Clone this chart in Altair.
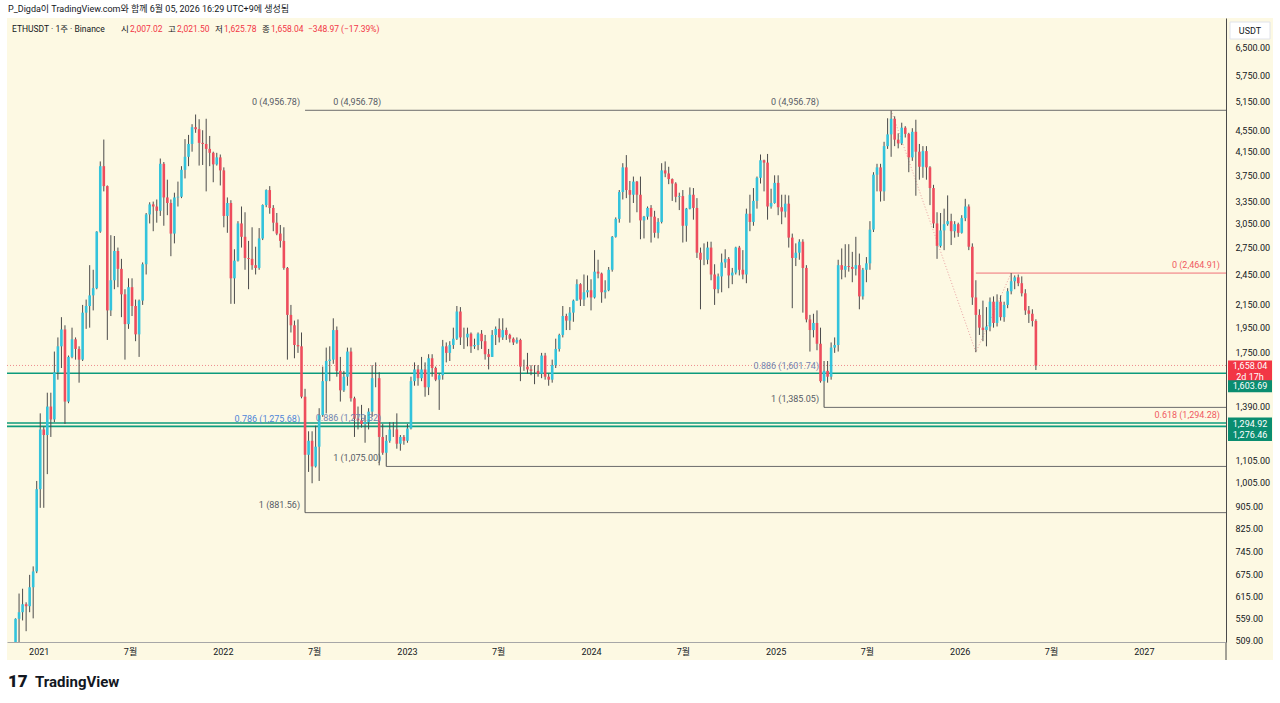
import altair as alt
import pandas as pd

# ---------------- weekly candles, ETHUSDT (Binance) ----------------
FIRST_OPEN = 461.0
FIRST_WEEK = "2020-11-16"

close_2020 = [559, 575, 595, 590, 640, 685, 975]
high_2020 = [560, 623, 636, 600, 675, 700, 1010]
low_2020 = [445, 480, 555, 530, 575, 560, 680]

close_2021 = [1260, 1230, 1390, 1315, 1610, 1800, 1935, 1420, 1720, 1855, 1780, 1700, 2080,
              2140, 2240, 2310, 2945, 3900, 3580, 2100, 2390, 2710, 2510, 2250, 1980, 2320,
              2140, 1895, 2190, 2560, 3170, 3310, 3280, 3220, 3940, 3410, 3330, 2920, 3410,
              3420, 3840, 4060, 4290, 4610, 4570, 4310, 4290, 4200, 4130, 3930, 4050, 3830]
high_2021 = [1350, 1275, 1475, 1475, 1760, 1870, 2040, 1970, 1730, 1950, 1870, 1800, 2150,
             2200, 2550, 2500, 2950, 3980, 4372, 3590, 2900, 2890, 2750, 2620, 2300, 2410,
             2410, 2200, 2200, 2580, 3190, 3340, 3350, 3380, 4030, 3970, 3680, 3380, 3480,
             3650, 3900, 4380, 4460, 4670, 4868, 4770, 4550, 4780, 4440, 4150, 4130, 4100]
low_2021 = [900, 900, 1040, 1220, 1300, 1560, 1640, 1290, 1410, 1710, 1700, 1540, 1690,
            1940, 1950, 2100, 2300, 2930, 3500, 1850, 2050, 2300, 2320, 2040, 1700, 1940,
            2050, 1840, 1720, 2150, 2450, 3050, 2950, 3060, 3150, 3020, 3160, 2650, 2800,
            3280, 3400, 3700, 3900, 4150, 4500, 3910, 3920, 3500, 3900, 3640, 3910, 3590]

close_2022 = [3150, 3330, 2410, 2600, 3050, 2880, 2630, 2620, 2550, 2520, 2860, 3300, 3520,
              3260, 3060, 2920, 2830, 2520, 2060, 1970, 1810, 1800, 1450, 1130, 1200, 1075,
              1170, 1340, 1550, 1690, 1700, 1930, 1620, 1490, 1580, 1760, 1440, 1320, 1310,
              1290, 1300, 1360, 1570, 1570, 1220, 1140, 1200, 1260, 1260, 1185, 1220, 1200]
high_2022 = [3880, 3410, 3370, 2730, 3080, 3280, 3200, 2830, 3000, 2760, 2990, 3310, 3530,
             3580, 3300, 3190, 3030, 3000, 2530, 2150, 2010, 2020, 1910, 1500, 1250, 1250,
             1280, 1380, 1650, 1790, 1800, 2030, 1960, 1720, 1620, 1790, 1790, 1450, 1390,
             1400, 1340, 1380, 1660, 1680, 1610, 1290, 1230, 1300, 1300, 1350, 1230, 1230]
low_2022 = [3000, 2930, 2160, 2160, 2590, 2750, 2500, 2300, 2500, 2450, 2500, 2840, 3270,
            3180, 2950, 2900, 2750, 2500, 1700, 1910, 1710, 1750, 1440, 881.56, 1050, 1000,
            1070, 1010, 1330, 1350, 1550, 1670, 1580, 1420, 1480, 1520, 1420, 1220, 1260,
            1270, 1190, 1260, 1330, 1510, 1080, 1130, 1075, 1190, 1220, 1160, 1150, 1180]

close_2023 = [1265, 1550, 1630, 1570, 1630, 1510, 1710, 1640, 1560, 1590, 1800, 1750, 1810,
              1860, 2090, 1870, 1870, 1900, 1800, 1810, 1900, 1840, 1740, 1720, 1890, 1940,
              1870, 1930, 1890, 1860, 1830, 1850, 1650, 1650, 1630, 1620, 1620, 1600, 1730,
              1580, 1560, 1660, 1780, 1890, 2050, 2010, 2080, 2190, 2350, 2200, 2270, 2290]
high_2023 = [1290, 1580, 1680, 1660, 1720, 1680, 1740, 1740, 1650, 1600, 1850, 1830, 1840,
             1950, 2140, 2130, 1950, 1950, 1910, 1860, 1910, 1930, 1890, 1780, 1930, 1960,
             2030, 2030, 1950, 1900, 1870, 1870, 1860, 1700, 1750, 1660, 1660, 1660, 1750,
             1750, 1600, 1700, 1860, 1900, 2140, 2070, 2130, 2200, 2400, 2360, 2450, 2440]
low_2023 = [1190, 1260, 1520, 1520, 1550, 1450, 1460, 1580, 1550, 1370, 1560, 1680, 1690,
            1780, 1850, 1810, 1780, 1800, 1750, 1780, 1770, 1780, 1700, 1630, 1720, 1810,
            1830, 1850, 1850, 1830, 1810, 1820, 1550, 1620, 1600, 1590, 1530, 1580, 1570,
            1560, 1520, 1540, 1640, 1760, 1870, 1930, 1930, 2000, 2190, 2140, 2140, 2220]

close_2024 = [2220, 2480, 2460, 2270, 2290, 2500, 2880, 3110, 3490, 3880, 3520, 3450, 3650,
              3450, 3090, 3140, 3260, 3140, 2930, 3070, 3830, 3780, 3690, 3620, 3420, 3430,
              3020, 3250, 3450, 3260, 2690, 2610, 2610, 2750, 2450, 2300, 2430, 2580, 2620,
              2440, 2470, 2750, 2500, 2450, 3180, 3070, 3360, 3710, 4000, 3960, 3280, 3330]
high_2024 = [2400, 2720, 2610, 2470, 2390, 2530, 2890, 3130, 3520, 3950, 4090, 3660, 3730,
             3660, 3730, 3150, 3280, 3300, 3220, 3120, 3950, 3980, 3890, 3700, 3640, 3480,
             3520, 3260, 3560, 3550, 3400, 2750, 2800, 2820, 2820, 2560, 2460, 2680, 2730,
             2640, 2520, 2760, 2770, 2720, 3250, 3450, 3550, 3730, 4100, 4010, 4110, 3540]
low_2024 = [2100, 2210, 2410, 2170, 2210, 2280, 2480, 2870, 3060, 3380, 3400, 3060, 3330,
            3200, 2850, 2860, 3100, 2810, 2870, 2860, 3050, 3720, 3610, 3360, 3340, 3230,
            2810, 2820, 3240, 3100, 2630, 2110, 2550, 2560, 2390, 2150, 2260, 2270, 2520,
            2310, 2350, 2450, 2440, 2400, 2360, 2950, 3020, 3250, 3620, 3500, 3100, 3250]

close_2025 = [3630, 3270, 3210, 3320, 2870, 2630, 2690, 2820, 2520, 2020, 1930, 1990, 1820,
              1550, 1620, 1580, 1790, 1810, 2550, 2500, 2540, 2530, 2510, 2550, 2230, 2500,
              2570, 2970, 3760, 3880, 3500, 4250, 4470, 4780, 4370, 4300, 4600, 4480, 4050,
              4520, 4150, 3890, 4160, 3880, 3550, 3050, 2770, 2960, 3040, 3080, 2950, 3040,
              2930]
high_2025 = [3750, 3750, 3450, 3450, 3440, 2920, 2800, 2850, 2850, 2550, 2060, 2070, 2100,
             1950, 1690, 1690, 1830, 1870, 2610, 2740, 2790, 2790, 2700, 2880, 2680, 2520,
             2640, 3080, 3800, 3940, 3940, 4330, 4790, 4956.78, 4830, 4490, 4700, 4630, 4500,
             4590, 4760, 4290, 4250, 4250, 3900, 3600, 3200, 3190, 3250, 3440, 3180, 3080,
             3060]
low_2025 = [3320, 3160, 3040, 3130, 2750, 2120, 2540, 2610, 2080, 1995, 1760, 1870, 1770,
            1540, 1385.05, 1540, 1560, 1750, 1760, 2400, 2420, 2480, 2370, 2440, 2110, 2200,
            2370, 2500, 2940, 3500, 3350, 3360, 4200, 4060, 4250, 4210, 4270, 4410, 3800,
            3990, 3435, 3680, 3710, 3680, 3300, 2990, 2620, 2750, 2720, 3020, 2780, 2870,
            2880]

close_2026 = [3120, 3280, 2760, 2220, 2060, 1950, 1930, 1960, 2180, 1990, 2180, 2040, 2150,
              2280, 2380, 2420, 2360, 2260, 2100, 2070, 2007.02, 1658.04]
high_2026 = [3160, 3390, 3310, 2800, 2390, 2110, 2190, 2130, 2220, 2230, 2250, 2240, 2180,
             2310, 2464.91, 2440, 2450, 2430, 2300, 2140, 2110, 2021.50]
low_2026 = [2920, 3080, 2720, 2150, 1755, 1890, 1840, 1800, 1920, 1950, 1960, 2010, 2000,
            2120, 2250, 2300, 2330, 2230, 2060, 1990, 1960, 1625.78]

# horizontal levels
green_levels = [1603.69, 1294.92, 1276.46]
last_price = 1658.04
y_ticks = [6500, 5750, 5150, 4550, 4150, 3750, 3350, 3050, 2750, 2450, 2150, 1950, 1750,
           1390, 1105, 1005, 905, 825, 745, 675, 615, 559, 509]

# fib tools (anchor week, level price)
fib_line_start = ["2022-06-13", "2022-06-13", "2022-11-21", "2025-04-07"]
fib_line_price = [4956.78, 881.56, 1075.00, 1385.05]
fib_label_week = ["2022-06-13", "2022-06-13", "2022-06-13", "2022-11-21", "2022-11-21",
                  "2022-11-21", "2025-04-07", "2025-04-07", "2025-04-07"]
fib_label_price = [4956.78, 881.56, 1275.68, 4956.78, 1075.00, 1279.32, 4956.78, 1601.74, 1385.05]
fib_label_text = ["0 (4,956.78)", "1 (881.56)", "0.786 (1,275.68)", "0 (4,956.78)",
                  "1 (1,075.00)", "0.886 (1,279.32)", "0 (4,956.78)", "0.886 (1,601.74)",
                  "1 (1,385.05)"]
fib_label_kind = ["n", "n", "b", "n", "n", "g", "n", "g", "n"]
red_fib_start = "2026-02-02"
red_fib_prices = [2464.91, 1294.28]
red_fib_texts = ["0 (2,464.91)", "0.618 (1,294.28)"]
zig_weeks = ["2025-08-18", "2026-02-02", "2026-04-13"]
zig_prices = [4956.78, 1755.0, 2464.91]

x_tick_years = [2021, 2021, 2022, 2022, 2023, 2023, 2024, 2024, 2025, 2025, 2026, 2026, 2027]
x_tick_months = [1, 7, 1, 7, 1, 7, 1, 7, 1, 7, 1, 7, 1]

# ---------------- build tables ----------------
closes = close_2020 + close_2021 + close_2022 + close_2023 + close_2024 + close_2025 + close_2026
highs = high_2020 + high_2021 + high_2022 + high_2023 + high_2024 + high_2025 + high_2026
lows = low_2020 + low_2021 + low_2022 + low_2023 + low_2024 + low_2025 + low_2026
opens = [FIRST_OPEN] + closes[:-1]
weeks = pd.date_range(FIRST_WEEK, periods=len(closes), freq="7D")
candles = pd.DataFrame({
    "week": weeks, "open": opens, "close": closes,
    "high": [max(h, o, c) for h, o, c in zip(highs, opens, closes)],
    "low": [min(l, o, c) for l, o, c in zip(lows, opens, closes)],
})
candles["dir"] = ["up" if c >= o else "down" for o, c in zip(opens, closes)]

W, H = 1219, 624
FONT = "Roboto, 'Noto Sans CJK KR', sans-serif"
BG = "#fdf9e3"
UP, DOWN = "#33c3dc", "#ee4d5d"
GREEN = "#0c9b7d"
TXT = "#131722"
RED = "#f23645"
FIBGRAY = "#575b66"

x_scale = alt.Scale(domain=[alt.DateTime(year=2020, month=11, date=9),
                            alt.DateTime(year=2027, month=6, date=3)])
y_scale = alt.Scale(type="log", domain=[506, 7366], nice=False)

x_axis = alt.Axis(
    values=[alt.DateTime(year=y, month=m, date=1) for y, m in zip(x_tick_years, x_tick_months)],
    labelExpr="month(datum.value) == 0 ? timeFormat(datum.value, '%Y') : (month(datum.value) + 1) + '월'",
    title=None, grid=False, ticks=False, domainColor="#a7a7a7", labelColor=TXT,
    labelFontSize=9, labelPadding=5, labelFlush=False, labelOverlap=False, zindex=1,
)
y_axis = alt.Axis(
    orient="right", values=y_ticks, format=",.2f", title=None, grid=False, ticks=False,
    domainColor="#4a4a4a", labelColor=TXT, labelFontSize=9, labelPadding=9,
    labelOverlap=False, labelFlush=False, zindex=1,
)

one = pd.DataFrame({"a": [0]})

background = alt.Chart(one).mark_rect(fill=BG, clip=False).encode(
    x=alt.value(0), x2=alt.value(1266), y=alt.value(0), y2=alt.value(642))

wicks = alt.Chart(candles).mark_rule(color="#4b4b4b", strokeWidth=1, clip=True).encode(
    x=alt.X("week:T", scale=x_scale, axis=x_axis),
    y=alt.Y("low:Q", scale=y_scale, axis=y_axis),
    y2="high:Q",
)
bodies = alt.Chart(candles).mark_bar(size=2.6, clip=True).encode(
    x="week:T", y="open:Q", y2="close:Q",
    color=alt.Color("dir:N", scale=alt.Scale(domain=["up", "down"], range=[UP, DOWN]), legend=None),
)

green_df = pd.DataFrame({"price": green_levels})
green_rules = alt.Chart(green_df).mark_rule(color=GREEN, strokeWidth=1.6).encode(y="price:Q")

last_df = pd.DataFrame({"price": [last_price]})
last_rule = alt.Chart(last_df).mark_rule(color="#e8707a", strokeWidth=0.8, strokeDash=[1, 2]).encode(
    y="price:Q")

fib_df = pd.DataFrame({"start": pd.to_datetime(fib_line_start), "price": fib_line_price})
fib_rules = alt.Chart(fib_df).mark_rule(color="#6b6b6b", strokeWidth=1).encode(
    x="start:T", x2=alt.value(W), y="price:Q")

red_df = pd.DataFrame({"start": pd.to_datetime([red_fib_start]), "price": [red_fib_prices[0]]})
red_rule = alt.Chart(red_df).mark_rule(color="#f07078", strokeWidth=1).encode(
    x="start:T", x2=alt.value(W), y="price:Q")

zig_df = pd.DataFrame({"week": pd.to_datetime(zig_weeks), "price": zig_prices})
zigzag = alt.Chart(zig_df).mark_line(color="#e9a2a2", strokeWidth=1, strokeDash=[1, 2]).encode(
    x="week:T", y="price:Q")

kind_color = {"n": FIBGRAY, "b": "#4f86d8", "g": "#7484b0"}
lab_df = pd.DataFrame({"week": pd.to_datetime(fib_label_week), "price": fib_label_price,
                       "text": fib_label_text,
                       "col": [kind_color[k] for k in fib_label_kind]})
fib_labels = alt.Chart(lab_df).mark_text(align="right", baseline="middle", dx=-5, dy=-8,
                                          fontSize=9, font=FONT).encode(
    x="week:T", y="price:Q", text="text:N", color=alt.Color("col:N", scale=None))

red_lab_df = pd.DataFrame({"price": red_fib_prices, "text": red_fib_texts})
red_labels = alt.Chart(red_lab_df).mark_text(align="right", baseline="middle", dy=-8,
                                              fontSize=9, font=FONT, color="#f05a62").encode(
    x=alt.value(1213), y="price:Q", text="text:N")


def price_box(price, label, fill, offset, hh=0.2727):
    d = pd.DataFrame({"price": [price], "label": [label]})
    path = f"M-1,-{hh}L1,-{hh}L1,{hh}L-1,{hh}Z"
    box = alt.Chart(d).mark_point(shape=path, size=1936, filled=True, fill=fill, opacity=1,
                                  strokeWidth=0, clip=False, yOffset=offset).encode(
        x=alt.value(1243), y="price:Q")
    txt = alt.Chart(d).mark_text(color="white", fontSize=9, font=FONT, clip=False,
                                 yOffset=offset if hh < 0.4 else offset - 6).encode(
        x=alt.value(1243), y="price:Q", text="label:N")
    return [box, txt]


boxes = []
boxes += price_box(last_price, "1,658.04", RED, 7, hh=0.545)
boxes.append(alt.Chart(last_df).mark_text(color="white", fontSize=9, font=FONT, yOffset=12,
                                          text="2d 17h").encode(x=alt.value(1243), y="price:Q"))
boxes += price_box(green_levels[0], "1,603.69", "#0a8d70", 13)
boxes += price_box(green_levels[1], "1,294.92", "#0a8d70", 0.5)
boxes += price_box(green_levels[2], "1,276.46", "#0a8d70", 8.5)

usdt_box = alt.Chart(one).mark_rect(fill="white", stroke="#e0e3eb", strokeWidth=1).encode(
    x=alt.value(1223), x2=alt.value(1263), y=alt.value(4), y2=alt.value(21))
usdt_txt = alt.Chart(one).mark_text(text="USDT", fontSize=9, font=FONT, color=TXT).encode(
    x=alt.value(1243), y=alt.value(13))
axis_tail = alt.Chart(one).mark_rule(color="#4a4a4a", strokeWidth=1).encode(
    x=alt.value(W), y=alt.value(H), y2=alt.value(642))

header_parts = [
    ("ETHUSDT · 1주 · Binance", 5, TXT), ("시", 114, TXT), ("2,007.02", 123, RED),
    ("고", 161, TXT), ("2,021.50", 170, RED), ("저", 208, TXT),
    ("1,625.78", 217, RED), ("종", 255, TXT), ("1,658.04", 264, RED),
    ("−348.97 (−17.39%)", 301, RED),
]
header = [alt.Chart(one).mark_text(text=t, align="left", baseline="middle", fontSize=8.5,
                                   font=FONT, color=c).encode(x=alt.value(xp), y=alt.value(11))
          for t, xp, c in header_parts]

top_note = alt.Chart(one).mark_text(
    text="P_Digda이 TradingView.com와 함께 6월 05, 2026 16:29 UTC+9에 생성됨",
    align="left", baseline="middle", fontSize=9, font=FONT, color=TXT).encode(
    x=alt.value(1), y=alt.value(-9))
logo_mark = alt.Chart(one).mark_text(text="17", align="left", baseline="middle", fontSize=17,
                                     fontWeight=900, font=FONT, color=TXT).encode(
    x=alt.value(1), y=alt.value(664))
logo_txt = alt.Chart(one).mark_text(text="TradingView", align="left", baseline="middle",
                                    fontSize=15, fontWeight="bold", font=FONT, color=TXT).encode(
    x=alt.value(28), y=alt.value(664))

chart = alt.layer(
    background, green_rules, last_rule, fib_rules, red_rule, zigzag, wicks, bodies,
    fib_labels, red_labels, *boxes, usdt_box, usdt_txt, axis_tail, *header, top_note,
    logo_mark, logo_txt,
).properties(
    width=W, height=H, background="white",
    padding={"left": 7, "top": 18, "right": 54, "bottom": 61},
    autosize=alt.AutoSizeParams(type="none"),
).configure_view(stroke=None, fill=None).configure_axis(labelFont=FONT).configure_text(font=FONT)

chart.save("out.html", embed_options={"renderer": "svg", "actions": False})
